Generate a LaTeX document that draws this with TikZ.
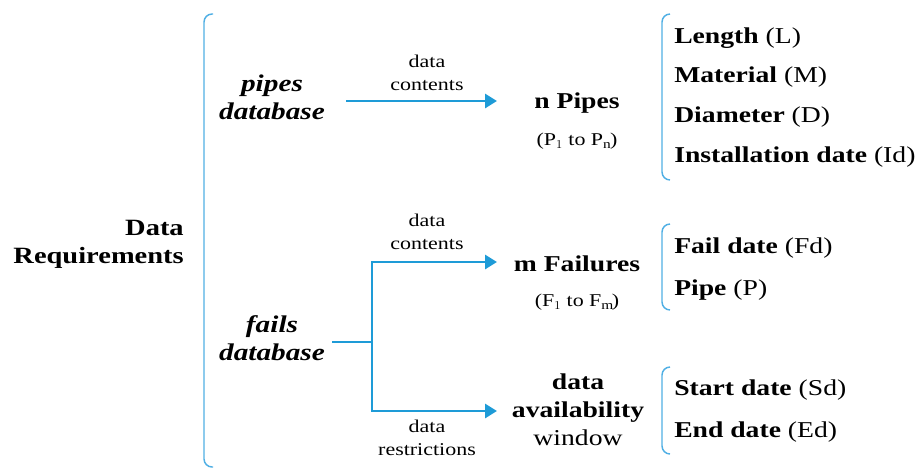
\documentclass[tikz,border=0pt]{standalone}
\usepackage{fontspec}
\setmainfont{Liberation Serif}[FakeStretch=1.22]
\usetikzlibrary{arrows.meta}
\definecolor{arrowblue}{RGB}{30,155,215}
\definecolor{brackblue}{RGB}{80,175,228}
\tikzset{
  txt/.style={inner sep=0pt, align=center, font=\fontsize{17}{20}\selectfont},
  item/.style={inner sep=0pt, anchor=west, font=\fontsize{17}{20}\selectfont},
  dbtxt/.style={inner sep=0pt, align=center, font=\fontsize{18}{21}\bfseries\itshape\selectfont},
  lbl/.style={inner sep=0pt, align=center, font=\fontsize{13.5}{17}\selectfont},
  sub/.style={inner sep=0pt, align=center, font=\fontsize{13.5}{15}\selectfont},
  flow/.style={draw=arrowblue, line width=2.2pt, -{Triangle[length=9pt,width=10.5pt]}},
  link/.style={draw=arrowblue, line width=1.1pt},
  brack/.style={draw=brackblue, line width=1.1pt, rounded corners=6pt},
}
\begin{document}
\begin{tikzpicture}[x=0.75pt,y=-0.75pt]
\useasboundingbox (0,0) rectangle (924,471);
% main bracket
\draw[brack] (213,14) -- (204,14) -- (204,467) -- (213,467);
\node[txt, font=\fontsize{17.5}{21}\bfseries\selectfont, align=right, anchor=east] (req) at (184,244) {Data\\Requirements};

% pipes branch
\node[dbtxt] (pdb) at (272,97) {pipes\\database};
\coordinate (p0) at (346,101);
\coordinate (p1) at (497,101);
\draw[flow] (p0) -- (p1);
\node[lbl] (l1) at (427,73) {data\\contents};
\node[txt, font=\fontsize{17}{20}\bfseries\selectfont] (np) at (577,103) {n Pipes};
\node[sub] (npsub) at (577,141) {(P$_1$ to P$_\mathrm{n}$)};
\draw[brack] (670,14) -- (662,14) -- (662,180) -- (670,180);
\node[item] (i1) at (674,38) {\textbf{Length} (L)};
\node[item] (i2) at (674,77) {\textbf{Material} (M)};
\node[item] (i3) at (674,117) {\textbf{Diameter} (D)};
\node[item] (i4) at (674,157) {\textbf{Installation date} (Id)};

% fails branch
\node[dbtxt] (fdb) at (272,338) {fails\\database};
\coordinate (f0) at (332,342);
\coordinate (jn) at (372,342);
\coordinate (jt) at (372,262);
\coordinate (jb) at (372,411);
\coordinate (ft) at (497,262);
\coordinate (fb) at (497,411);
\draw[link] (f0) -- (jn);
\draw[link] (jt) -- (jb);
\draw[flow] ([xshift=-0.55pt]jt) -- (ft);
\draw[flow] ([xshift=-0.55pt]jb) -- (fb);
\node[lbl] (l2) at (427,232) {data\\contents};
\node[lbl] (l3) at (427,438) {data\\restrictions};
\node[txt, font=\fontsize{17}{20}\bfseries\selectfont] (mf) at (577,264) {m Failures};
\node[sub] (mfsub) at (577,302) {(F$_1$ to F$_\mathrm{m}$)};
\draw[brack] (670,224) -- (662,224) -- (662,310) -- (670,310);
\node[item] (j1) at (674,248) {\textbf{Fail date} (Fd)};
\node[item] (j2) at (674,290) {\textbf{Pipe} (P)};

\node[txt, font=\fontsize{17}{21}\selectfont] (daw) at (578,410) {\textbf{data}\\\textbf{availability}\\window};
\draw[brack] (670,367) -- (662,367) -- (662,454) -- (670,454);
\node[item] (k1) at (674,390) {\textbf{Start date} (Sd)};
\node[item] (k2) at (674,432) {\textbf{End date} (Ed)};
\end{tikzpicture}
\end{document}
